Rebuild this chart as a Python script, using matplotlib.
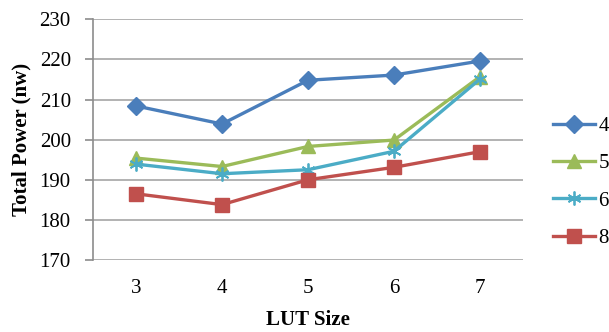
import matplotlib
matplotlib.use("Agg")
import matplotlib.pyplot as plt

lut_sizes = [3, 4, 5, 6, 7]
series_labels = ["4", "5", "6", "8"]
s4 = [208.4, 203.9, 214.8, 216.1, 219.6]
s5 = [195.4, 193.3, 198.3, 199.9, 215.7]
s6 = [193.9, 191.5, 192.5, 197.1, 215.1]
s8 = [186.5, 183.8, 190.0, 193.1, 197.0]
y_ticks = [170, 180, 190, 200, 210, 220, 230]

colors = ["#4A7EBB", "#9BBB59", "#4BACC6", "#C0504D"]
markers = ["D", "^", (6, 2, 0), "s"]
msizes = [9, 10, 10, 10]

plt.rcParams['font.family'] = ['Liberation Serif', 'DejaVu Serif']

fig = plt.figure(figsize=(6.09, 3.32), dpi=100)
ax = fig.add_axes([0.1527, 0.2169, 0.7061, 0.7250])

handles = []
for vals, c, m, ms, lab in zip([s4, s5, s6, s8], colors, markers, msizes, series_labels):
    mk = dict(marker=m, markersize=ms, markerfacecolor=c, markeredgecolor=c)
    if m == (6, 2, 0):
        mk['markeredgewidth'] = 1.3
    ln, = ax.plot(lut_sizes, vals, color=c, linewidth=2.4, label=lab, zorder=3, **mk)
    handles.append(ln)

ax.set_xlim(2.5, 7.5)
ax.set_ylim(170, 230)
ax.set_yticks(y_ticks)
ax.set_xticks(lut_sizes)
ax.grid(axis='y', color='#A6A6A6', linewidth=1.2, zorder=0)
for s in ['top', 'right', 'bottom']:
    ax.spines[s].set_visible(False)
ax.spines['left'].set_color('#8C8C8C')
ax.spines['left'].set_linewidth(1.2)
ax.tick_params(axis='y', length=6, width=1.2, color='#8C8C8C', labelsize=15, pad=10)
ax.tick_params(axis='x', length=0, labelsize=15, pad=14)

ax.set_ylabel("Total Power (nw)", fontsize=15, fontweight='bold', labelpad=6)
ax.set_xlabel("LUT Size", fontsize=15, fontweight='bold', labelpad=8)

fig.legend(handles=handles, labels=series_labels, loc='upper left',
           bbox_to_anchor=(0.878, 0.706), frameon=False, fontsize=15,
           handlelength=2.0, labelspacing=0.85, handletextpad=0.15)

fig.savefig("out.png", dpi=100)
